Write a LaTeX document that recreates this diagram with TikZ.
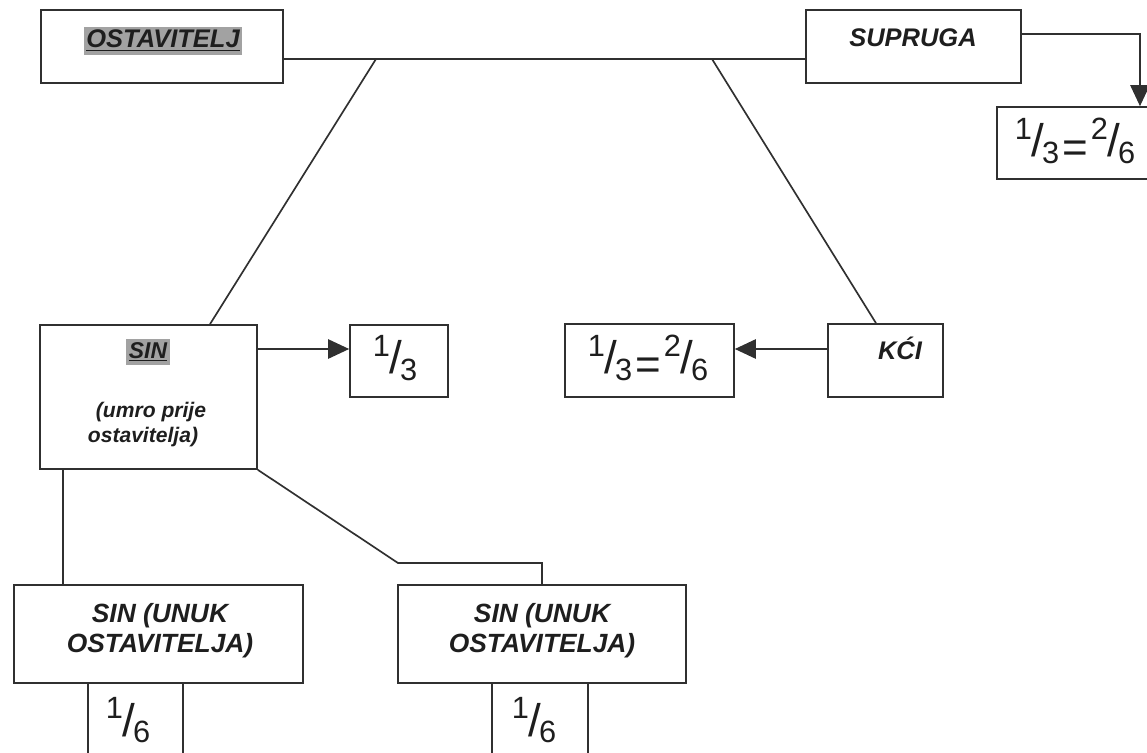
\documentclass[tikz,border=0pt]{standalone}
\usepackage{fontspec}
\setmainfont{Liberation Sans}
\usetikzlibrary{arrows.meta}
\definecolor{linec}{HTML}{303030}
\definecolor{txtc}{HTML}{1E1E1E}
\definecolor{hlgray}{HTML}{A2A2A2}
\newcommand\frc[2]{\raisebox{10pt}{\fontsize{17.5}{17.5}\selectfont #1}\kern-0.5pt{\fontsize{26}{26}\selectfont /}\kern-1pt\raisebox{-3.6pt}{\fontsize{17.5}{17.5}\selectfont #2}}
\newcommand\eqs{\kern2pt\raisebox{-3pt}{\fontsize{25}{25}\selectfont =}\kern1.5pt}
\begin{document}
\begin{tikzpicture}[x=0.02cm,y=-0.02cm,
  box/.style={draw=linec,line width=0.95pt,inner sep=0pt,rectangle},
  lbl/.style={text=txtc,font=\fontsize{14.5}{16.5}\selectfont\bfseries\itshape,inner sep=0pt,anchor=base},
  note/.style={text=txtc,font=\fontsize{12}{14}\selectfont\bfseries\itshape,inner sep=0pt,anchor=base},
  hlt/.style={fill=hlgray,inner xsep=1.5pt,inner ysep=2pt},
  frn/.style={text=txtc,inner sep=0pt,anchor=base},
  conn/.style={draw=linec,line width=0.95pt},
  arr/.style={conn,-{Triangle[length=12pt,width=11pt]}}]
\useasboundingbox (0,0) rectangle (1147,753);
\fill[white] (0,0) rectangle (1147,753);
\clip (0,0) rectangle (1147,753);

% boxes
\node[box,minimum width=4.84cm,minimum height=1.46cm] (ost) at (162,46.5) {};
\node[box,minimum width=4.30cm,minimum height=1.46cm] (sup) at (913.5,46.5) {};
\node[box,minimum width=3.46cm,minimum height=1.44cm] (supfr) at (1083.5,143) {};
\node[box,minimum width=4.34cm,minimum height=2.88cm] (sin) at (148.5,397) {};
\node[box,minimum width=1.96cm,minimum height=1.44cm] (sinfr) at (399,361) {};
\node[box,minimum width=2.30cm,minimum height=1.46cm] (kci) at (885.5,360.5) {};
\node[box,minimum width=3.38cm,minimum height=1.46cm] (kcifr) at (649.5,360.5) {};
\node[box,minimum width=5.78cm,minimum height=1.96cm] (ga) at (158.5,634) {};
\node[box,minimum width=5.76cm,minimum height=1.96cm] (gb) at (542,634) {};
\node[box,minimum width=1.90cm,minimum height=1.74cm] (gafr) at (135.5,726.5) {};
\node[box,minimum width=1.92cm,minimum height=1.74cm] (gbfr) at (540,726.5) {};

% texts
\node[lbl,hlt] (tost) at (163,48) {\underline{OSTAVITELJ}};
\node[lbl] (tsup) at (913,47) {SUPRUGA};
\node[lbl] (tkci) at (900,360) {KĆI};
\node[lbl,hlt,font=\fontsize{13}{15}\selectfont\bfseries\itshape] (tsin) at (148,358) {\underline{SIN}};
\node[note] (tsina) at (151,418) {(umro prije};
\node[note] (tsinb) at (143,442) {ostavitelja)};
\node[lbl,font=\fontsize{15}{17}\selectfont\bfseries\itshape] (tgaa) at (160,622) {SIN (UNUK};
\node[lbl,font=\fontsize{15}{17}\selectfont\bfseries\itshape] (tgab) at (160,652) {OSTAVITELJA)};
\node[lbl,font=\fontsize{15}{17}\selectfont\bfseries\itshape] (tgba) at (542,622) {SIN (UNUK};
\node[lbl,font=\fontsize{15}{17}\selectfont\bfseries\itshape] (tgbb) at (542,652) {OSTAVITELJA)};

\node[frn] (fsup) at (1075,157) {\frc{1}{3}\eqs\frc{2}{6}};
\node[frn] (fkci) at (648,374) {\frc{1}{3}\eqs\frc{2}{6}};
\node[frn] (fsin) at (395,374) {\frc{1}{3}};
\node[frn] (fga) at (128,736) {\frc{1}{6}};
\node[frn] (fgb) at (534,736) {\frc{1}{6}};

% connectors
\coordinate (hline) at (0,59);
\coordinate (ja) at (376,59);
\coordinate (jb) at (712,59);
\coordinate (bend) at (398,563);
\draw[conn] (ost.east |- hline) -- (sup.west |- hline);
\draw[conn] (ja) -- ([xshift=1.23cm]sin.north);
\draw[conn] (jb) -- ([xshift=-0.19cm]kci.north);
\draw[arr] ([yshift=0.25cm]sup.east) -| ([xshift=1.13cm]supfr.north);
\draw[arr] ([yshift=0.96cm]sin.east) -- ([yshift=0.96cm]sin.east -| sinfr.west);
\draw[arr] ([yshift=0.23cm]kci.west) -- ([yshift=0.23cm]kci.west -| kcifr.east);
\draw[conn] ([xshift=-1.71cm]sin.south) -- ([xshift=-1.71cm]sin.south |- ga.north);
\draw[conn] (sin.south east) -- (bend) -| (gb.north);
\end{tikzpicture}
\end{document}
